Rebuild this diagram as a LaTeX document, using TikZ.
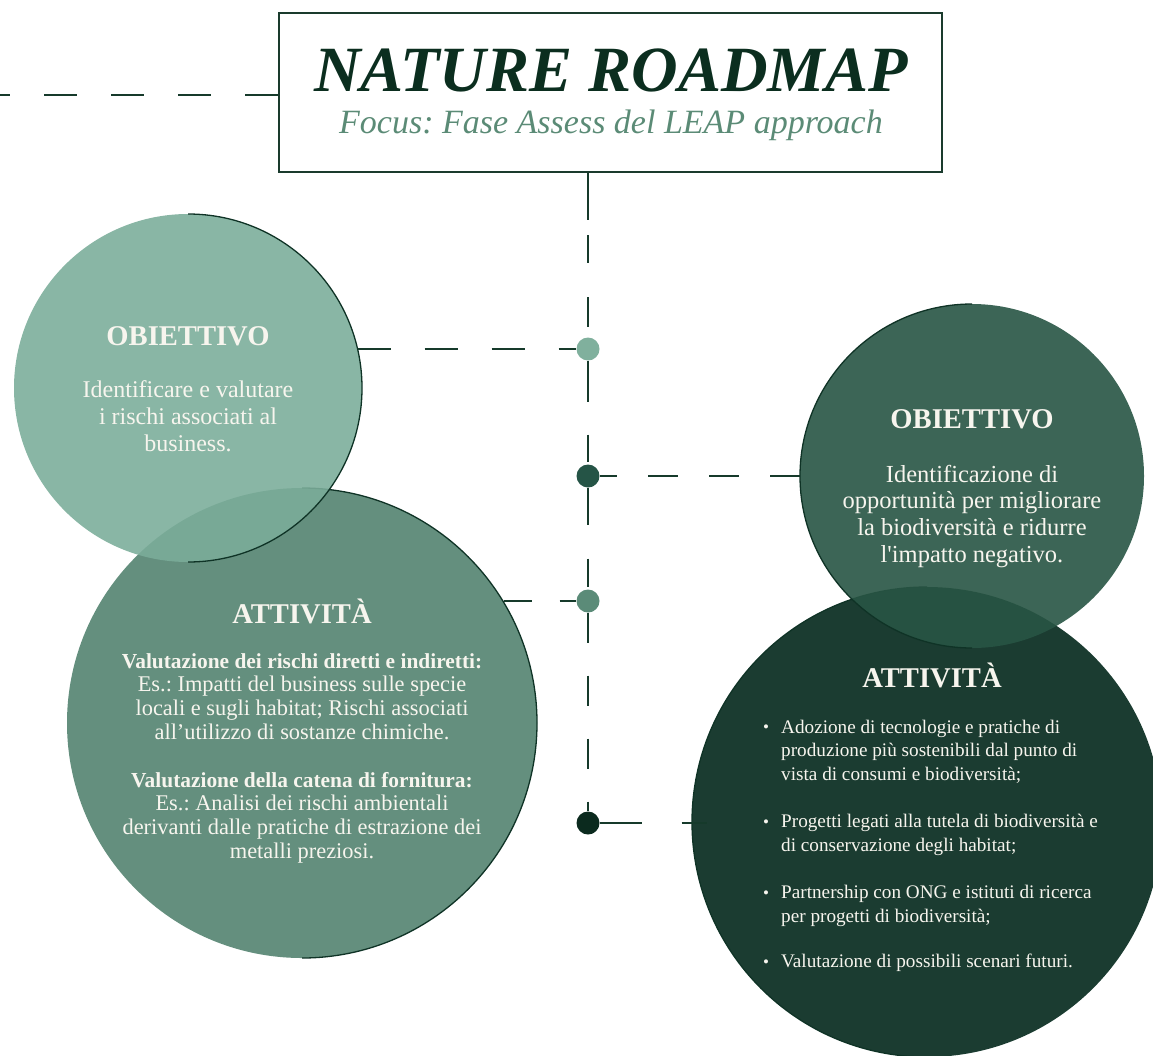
\documentclass[tikz,border=0pt]{standalone}
\usepackage{fontspec}
\setmainfont{Liberation Serif}
\frenchspacing
\definecolor{ink}{HTML}{0B2E1F}
\definecolor{frame}{HTML}{1A3B2D}
\definecolor{lineink}{HTML}{163A2B}
\definecolor{subcol}{HTML}{5B8B76}
\definecolor{cA}{HTML}{7BAD9A}
\definecolor{cB}{HTML}{648F7E}
\definecolor{cC}{HTML}{285544}
\definecolor{cD}{HTML}{1B3C31}
\definecolor{dA}{HTML}{80B09D}
\definecolor{dB}{HTML}{255446}
\definecolor{dC}{HTML}{5B8B78}
\definecolor{dD}{HTML}{0B2A1E}
\definecolor{txt}{HTML}{F7F5EE}
\definecolor{rimcol}{HTML}{0F3326}
\pgfdeclarelayer{bg}
\pgfsetlayers{bg,main}
\newcommand\itembul{\makebox[18pt][l]{\fontsize{17}{17}\selectfont\raisebox{0.5pt}{\textbullet}}}
\newcommand\itemcont{\makebox[18pt][l]{}}
\begin{document}
\begin{tikzpicture}[x=1pt,y=-1pt,
  conn/.style={draw=lineink, line width=2.4pt},
  dotnode/.style={circle, inner sep=0pt, minimum size=23pt},
  disc/.style={circle, inner sep=0pt, minimum size=#1},
  rim/.style={draw=rimcol, line width=1.3pt},
  head/.style={anchor=base, text=txt, inner sep=0pt, font=\fontsize{28.6}{30}\selectfont\bfseries},
  body/.style={anchor=north, text=txt, align=center, inner sep=0pt},
]
\useasboundingbox (0,0) rectangle (1153,1055);
\clip (0,0) rectangle (1153,1055);

% dots on the timeline
\node[dotnode, fill=dA] (d1) at (588,349) {};
\node[dotnode, fill=dB] (d2) at (588,476) {};
\node[dotnode, fill=dC] (d3) at (588,601) {};
\node[dotnode, fill=dD] (d4) at (588,823) {};

% title box
\node[draw=frame, line width=2.6pt, minimum width=663pt, minimum height=159pt, inner sep=0pt] (title) at (610.5,92.5) {};
\node[anchor=base, inner sep=0pt, text=ink, font=\fontsize{64.5}{64.5}\selectfont\bfseries\itshape] (tmain) at (611,91) {NATURE ROADMAP};
\node[anchor=base, inner sep=0pt, text=subcol, font=\fontsize{34}{34}\selectfont\itshape] (tsub) at (611,133) {Focus: Fase Assess del LEAP approach};
\coordinate (lend) at (0,95);

\begin{pgfonlayer}{bg}
  % left pair
  \node[disc=470pt, fill=cB] (c2) at (302,723) {};
  \begin{scope}
    \clip (c2.north) rectangle ([xshift=10pt]c2.east |- c2.south);
    \draw[rim] (c2.center) circle[radius=235];
  \end{scope}
  \node[disc=348pt, fill=cA, fill opacity=0.89] (c1) at (188,388) {};
  \begin{scope}
    \clip (c1.north) rectangle ([xshift=10pt]c1.east |- c1.south);
    \draw[rim] (c1.center) circle[radius=174];
  \end{scope}
  % right pair
  \node[disc=470pt, fill=cD] (c4) at (927,822) {};
  \begin{scope}
    \clip (c4.north) rectangle ([xshift=-10pt]c4.west |- c4.south);
    \draw[rim] (c4.center) circle[radius=235];
  \end{scope}
  \node[disc=344pt, fill=cC, fill opacity=0.905] (c3) at (972,476) {};
  \begin{scope}
    \clip (c3.north) rectangle ([xshift=-10pt]c3.west |- c3.south);
    \draw[rim] (c3.center) circle[radius=172];
  \end{scope}

  % connectors
  \draw[conn, dash pattern=on 33pt off 34pt] (title.west |- lend) -- (lend);
  \draw[conn, dash pattern=on 47pt off 15pt on 28pt off 34pt on 30pt off 100pt] (d1 |- title.south) -- (d1);
  \draw[conn, dash pattern=on 41pt off 33pt on 27pt off 60pt] (d1) -- (d2);
  \draw[conn, dash pattern=on 37pt off 34pt on 28pt off 60pt] (d2) -- (d3);
  \draw[conn, dash pattern=on 30pt off 33pt] (d3) -- (d4);
  \draw[conn, dash pattern=on 33pt off 34pt] (d1 -| c1.13) -- (d1);
  \draw[conn, dash pattern=on 30pt off 31pt] (c3.west) -- (d2);
  \draw[conn, dash pattern=on 28pt off 28pt] (d3 -| c2.31) -- (d3);
  \draw[conn, dash pattern=on 42pt off 40pt] (d4) -- ([xshift=15pt]d4 -| c4.west);
\end{pgfonlayer}

% texts circle 1
\node[head] (h1) at (188,345) {OBIETTIVO};
\node[body, font=\fontsize{24}{27}\selectfont] (t1) at (188,377)
  {\rule{0pt}{20pt}Identificare e valutare\\ i rischi associati al\\ business.};
% texts circle 2
\node[head] (h2) at (302,623) {ATTIVITÀ};
\node[body, font=\fontsize{22.4}{23.7}\selectfont] (t2) at (302,650)
  {\rule{0pt}{18pt}{\fontsize{21.4}{23.7}\selectfont\bfseries Valutazione dei rischi diretti e indiretti:}\\
   Es.: Impatti del business sulle specie\\
   locali e sugli habitat; Rischi associati\\
   all’utilizzo di sostanze chimiche.\\[24pt]
   {\fontsize{21.4}{23.7}\selectfont\bfseries Valutazione della catena di fornitura:}\\
   Es.: Analisi dei rischi ambientali\\
   derivanti dalle pratiche di estrazione dei\\
   metalli preziosi.};
% texts circle 3
\node[head] (h3) at (972,428) {OBIETTIVO};
\node[body, font=\fontsize{24.5}{26.7}\selectfont] (t3) at (972,462)
  {\rule{0pt}{20pt}Identificazione di\\ opportunità per migliorare\\ la biodiversità e ridurre\\ l\textquotesingle impatto negativo.};
% texts circle 4
\node[head] (h4) at (932,687) {ATTIVITÀ};
\node[anchor=north west, inner sep=0pt, align=left, text=txt, font=\fontsize{19.2}{23.5}\selectfont] (t4) at (763,715)
  {\itembul\rule{0pt}{18pt}Adozione di tecnologie e pratiche di\\
   \itemcont produzione più sostenibili dal punto di\\
   \itemcont vista di consumi e biodiversità;\\[24pt]
   \itembul Progetti legati alla tutela di biodiversità e\\
   \itemcont di conservazione degli habitat;\\[24pt]
   \itembul Partnership con ONG e istituti di ricerca\\
   \itemcont per progetti di biodiversità;\\[22pt]
   \itembul Valutazione di possibili scenari futuri.};
\end{tikzpicture}
\end{document}
